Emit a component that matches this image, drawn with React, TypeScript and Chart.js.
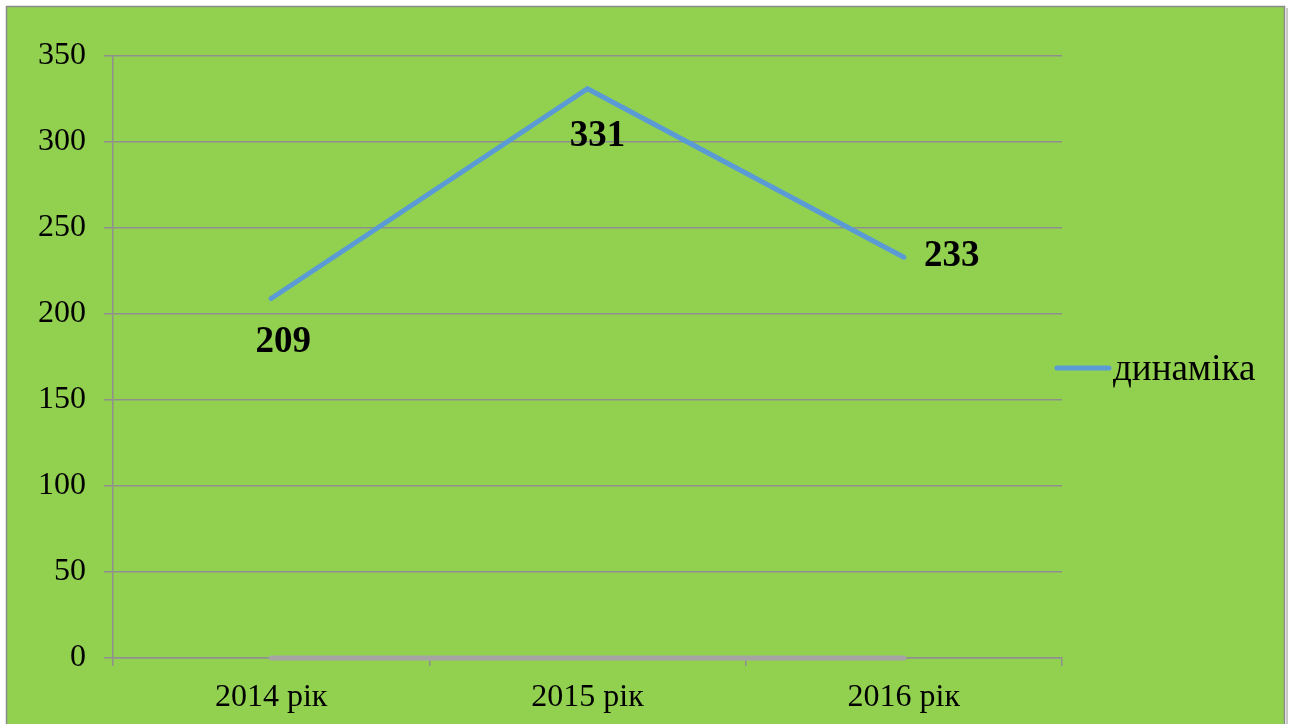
import React, { useEffect, useRef } from "react";
import { Chart, registerables } from "chart.js";

Chart.register(...registerables);

const categories = ["2014 рік", "2015 рік", "2016 рік"];
const dynamicsValues = [209, 331, 233];
const baselineValues = [0, 0, 0];
const seriesLabel = "динаміка";
const yMin = 0;
const yMax = 350;
const yStep = 50;

// label offsets (center relative to point), style only
const labelOffsets = [
  [12, 44],
  [10, 48],
  [48, -1],
];

const W = 1291;
const H = 724;
const FONT = "'Liberation Serif', 'Times New Roman', serif";
const GREEN = "#92D050";
const GRID = "#8F8F8F";
const BLUE = "#5B9BD5";
const GRAY = "#A5A5A5";

const bgPlugin = {
  id: "bgFrame",
  beforeDraw(chart: any) {
    const ctx = chart.ctx;
    ctx.save();
    ctx.fillStyle = "#ffffff";
    ctx.fillRect(0, 0, W, H);
    ctx.fillStyle = GREEN;
    ctx.fillRect(6, 6, 1279, H - 6);
    ctx.strokeStyle = "#8A8A8A";
    ctx.lineWidth = 1.5;
    ctx.strokeRect(6.5, 6.5, 1278, H + 10);
    ctx.strokeStyle = "#C8C8C8";
    ctx.lineWidth = 2;
    ctx.beginPath();
    ctx.moveTo(1287, 8);
    ctx.lineTo(1287, H);
    ctx.stroke();
    ctx.restore();
  },
};

const labelsPlugin = {
  id: "valueLabels",
  afterDatasetsDraw(chart: any) {
    const ctx = chart.ctx;
    const meta = chart.getDatasetMeta(0);
    const data = chart.data.datasets[0].data;
    ctx.save();
    ctx.fillStyle = "#000";
    ctx.font = `bold 37px ${FONT}`;
    ctx.textAlign = "center";
    ctx.textBaseline = "middle";
    meta.data.forEach((pt: any, i: number) => {
      const [dx, dy] = labelOffsets[i];
      ctx.fillText(String(data[i]), pt.x + dx, pt.y + dy);
    });
    ctx.restore();
  },
};

const legendPlugin = {
  id: "customLegend",
  afterDraw(chart: any) {
    const ctx = chart.ctx;
    const ds = chart.data.datasets[0];
    const y = 368;
    ctx.save();
    ctx.strokeStyle = ds.borderColor;
    ctx.lineWidth = 5;
    ctx.lineCap = "round";
    ctx.beginPath();
    ctx.moveTo(1057, y);
    ctx.lineTo(1109, y);
    ctx.stroke();
    ctx.fillStyle = "#000";
    ctx.font = `37px ${FONT}`;
    ctx.textAlign = "left";
    ctx.textBaseline = "alphabetic";
    ctx.fillText(ds.label, 1113, 380);
    ctx.restore();
  },
};

export default function App() {
  const ref = useRef<HTMLCanvasElement | null>(null);
  useEffect(() => {
    if (!ref.current) return;
    const chart = new Chart(ref.current, {
      type: "line",
      data: {
        labels: categories,
        datasets: [
          {
            label: seriesLabel,
            data: dynamicsValues,
            borderColor: BLUE,
            backgroundColor: BLUE,
            borderWidth: 5,
            borderCapStyle: "round",
            borderJoinStyle: "miter",
            pointRadius: 0,
            tension: 0,
            clip: false,
            order: 0,
          },
          {
            label: "",
            data: baselineValues,
            borderColor: GRAY,
            backgroundColor: GRAY,
            borderWidth: 5,
            borderCapStyle: "round",
            pointRadius: 0,
            tension: 0,
            clip: false,
            order: 1,
          },
        ],
      },
      options: {
        responsive: false,
        animation: false,
        layout: { padding: { top: 56, left: 0, right: W - 1062, bottom: 0 } },
        plugins: {
          legend: { display: false },
          tooltip: { enabled: false },
        },
        scales: {
          x: {
            offset: true,
            grid: {
              offset: true,
              drawOnChartArea: false,
              drawTicks: true,
              tickLength: 8,
              color: GRID,
              lineWidth: 1.5,
            },
            border: { display: true, color: GRID, width: 1.5 },
            ticks: {
              color: "#000",
              font: { family: FONT, size: 32 },
              padding: 12,
              maxRotation: 0,
            },
            afterFit(scale: any) {
              scale.height = H - 658;
            },
          },
          y: {
            min: yMin,
            max: yMax,
            grid: {
              drawOnChartArea: true,
              drawTicks: true,
              tickLength: 9,
              color: GRID,
              lineWidth: 1.5,
            },
            border: { display: true, color: GRID, width: 1.5 },
            ticks: {
              stepSize: yStep,
              color: "#000",
              font: { family: FONT, size: 32 },
              padding: 18,
            },
            afterFit(scale: any) {
              scale.width = 113;
            },
          },
        },
      },
      plugins: [bgPlugin, labelsPlugin, legendPlugin],
    } as any);
    return () => chart.destroy();
  }, []);
  return (
    <div style={{ position: "absolute", left: 0, top: 0, width: W, height: H, overflow: "hidden" }}>
      <canvas ref={ref} width={W} height={H} style={{ display: "block", width: W, height: H }} />
    </div>
  );
}
